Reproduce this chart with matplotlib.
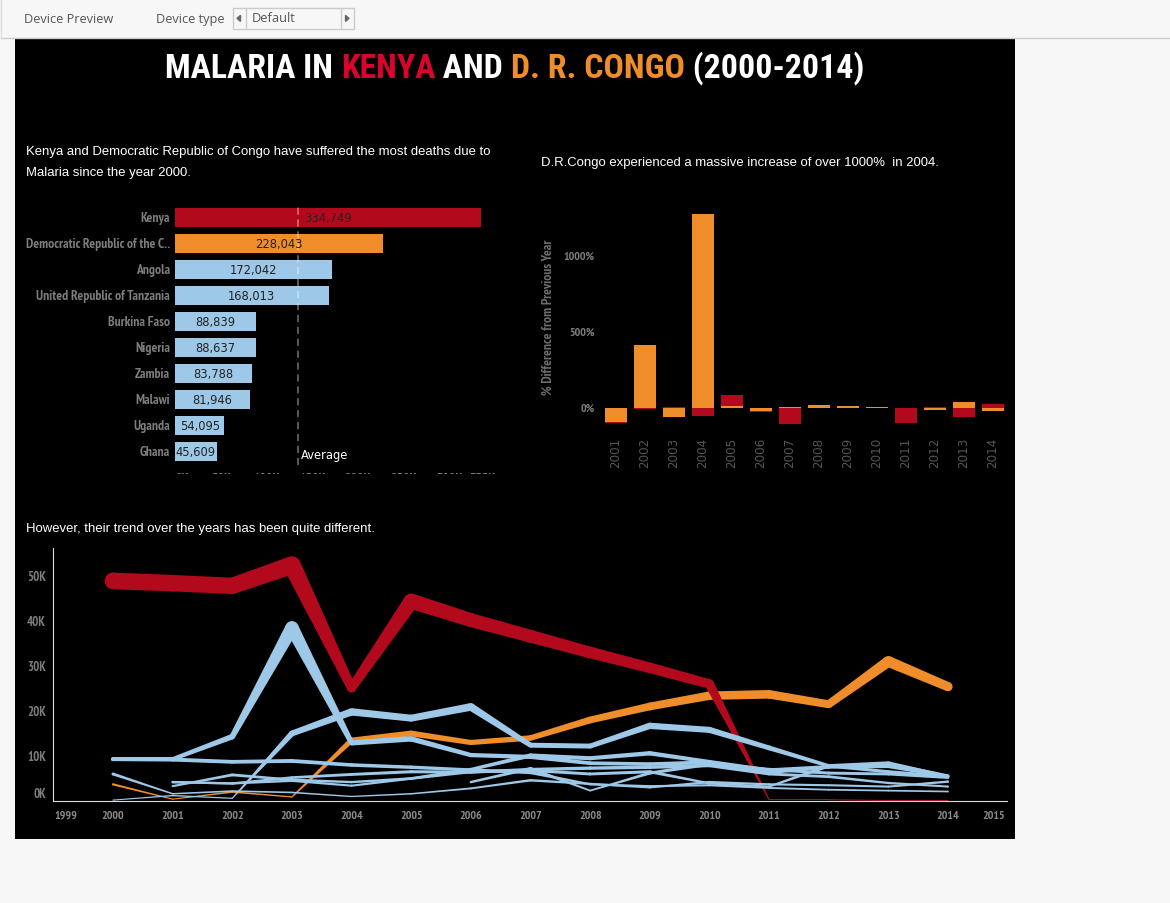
import numpy as np
import matplotlib
matplotlib.use('Agg')
import matplotlib.pyplot as plt
from matplotlib.patches import Rectangle

RED = '#b20a1c'
ORANGE = '#ef8d2a'
BLUE = '#9ec8e7'
NARROW = ['PT Sans Narrow', 'Pragati Narrow', 'Liberation Sans Narrow', 'Liberation Sans']
TITLE_FONT = ['Roboto Condensed', 'PT Sans Narrow', 'Liberation Sans']
W, H = 1170, 903

# top countries, total deaths
countries = ['Kenya', 'Democratic Republic of the C..', 'Angola', 'United Republic of Tanzania',
             'Burkina Faso', 'Nigeria', 'Zambia', 'Malawi', 'Uganda', 'Ghana']
totals = [334749, 228043, 172042, 168013, 88839, 88637, 83788, 81946, 54095, 45609]
bar_colors = [RED, ORANGE] + [BLUE] * 8
total_tick_vals = [8000, 51000, 100000, 150000, 200000, 250000, 300000, 336000]
total_tick_labels = ['0K', '50K', '100K', '150K', '200K', '250K', '300K', '335K']

# % difference from previous year
diff_years = list(range(2001, 2015))
diff_drc = [-92, 413, -59, 1271, 13, -17, 6, 20, 13, 6, 1, -12, 39, -19]
diff_kenya = [-6, -7, 6, -52, 72, -7, -105, 1, 0, 0, -99, 7, -59, 26]

# deaths per year, thousands
years = list(range(2000, 2015))
nan = float('nan')
kenya = [48.9, 48.4, 47.8, 52.4, 25.1, 44.4, 40.2, 36.6, 33.0, 29.6, 26.0, 0.3, 0.3, 0.1, 0.1]
drc = [3.7, 0.4, 2.0, 0.9, 13.5, 15.0, 13.0, 14.0, 18.0, 21.0, 23.4, 23.7, 21.5, 31.0, 25.4]
others = [
    [9.3, 9.3, 14.3, 38.5, 12.9, 13.8, 10.2, 9.8, 8.4, 8.2, 8.6, 6.3, 7.6, 7.7, 5.4],
    [0.2, 1.2, 0.6, 15.0, 19.8, 18.4, 20.9, 12.4, 12.2, 16.7, 15.8, 11.8, 7.8, 6.5, 5.5],
    [9.3, 9.2, 8.7, 8.9, 8.0, 7.5, 6.9, 6.3, 3.7, 3.3, 3.5, 2.9, 2.5, 2.3, 2.1],
    [6.0, 1.6, 2.2, 1.9, 1.0, 1.6, 2.8, 4.6, 3.8, 3.0, 4.2, 3.7, 3.5, 3.2, 4.3],
    [nan, 4.2, 3.9, 4.5, 3.4, 5.0, 7.0, 10.1, 9.5, 10.6, 8.7, 6.9, 7.6, 8.2, 5.6],
    [nan, 3.3, 5.8, 4.7, 4.2, 5.0, 6.5, 6.8, 6.0, 6.5, 3.9, 3.2, 7.8, 8.4, 5.5],
    [nan, 4.2, 3.9, 5.2, 5.9, 6.5, 6.4, 7.0, 7.3, 7.5, 7.9, 6.0, 5.4, 4.0, 3.2],
    [nan, nan, nan, nan, nan, nan, 4.2, 7.2, 2.3, 6.2, 8.2, 7.0, 6.2, 6.0, 5.2],
]
line_tick_pos = [1999.21, 2000, 2001, 2002, 2003, 2004, 2005, 2006, 2007, 2008, 2009, 2010,
                 2011, 2012, 2013, 2014, 2014.77]
line_tick_labels = [str(y) for y in range(1999, 2016)]
k_tick_pos = [1.8, 10, 20, 30, 40, 50]
k_tick_labels = ['0K', '10K', '20K', '30K', '40K', '50K']

fig = plt.figure(figsize=(11.7, 9.031), dpi=100, facecolor='#f7f7f7')

# page background and toolbar, in pixels
bg = fig.add_axes([0, 0, 1, 1])
bg.set_xlim(0, W)
bg.set_ylim(H, 0)
bg.axis('off')
bg.add_patch(Rectangle((15, 39), 1000, 800, fc='black', ec='none'))
bg.plot([1, 1170], [38.5, 38.5], color='#cccccc', lw=1)
bg.plot([1, 1], [0, 38], color='#dddddd', lw=1)
bg.text(24, 19.5, 'Device Preview', family='Open Sans', fontsize=9.2, color='#555555', va='center')
bg.text(156, 19.5, 'Device type', family='Open Sans', fontsize=9.2, color='#555555', va='center')
bg.add_patch(Rectangle((232.5, 8), 121, 21, fc='#f7f7f7', ec='#cccccc', lw=1))
bg.plot([245.5, 245.5], [8, 29], color='#cccccc', lw=1)
bg.plot([340.5, 340.5], [8, 29], color='#cccccc', lw=1)
bg.fill([240.5, 240.5, 237], [15.5, 21.5, 18.5], color='#666666')
bg.fill([345.5, 345.5, 349], [15.5, 21.5, 18.5], color='#666666')
bg.text(252, 18.5, 'Default', family='Open Sans', fontsize=9.3, color='#555555', va='center')

# title, one colour per piece
renderer = fig.canvas.get_renderer()
x = 165
for piece, col in [('MALARIA IN ', 'white'), ('KENYA', '#d9042b'), (' AND ', 'white'),
                   ('D. R. CONGO', ORANGE), (' (2000-2014)', 'white')]:
    t = bg.text(x, 68.5, piece, family=TITLE_FONT, weight='bold', fontsize=24.4, color=col, va='center')
    x = x + t.get_window_extent(renderer).width

body = dict(family='Liberation Sans', fontsize=9.45, color='white', va='center')
bg.text(26, 152, 'Kenya and Democratic Republic of Congo have suffered the most deaths due to', **body)
bg.text(26, 173, 'Malaria since the year 2000.', **body)
bg.text(541, 163, 'D.R.Congo experienced a massive increase of over 1000%  in 2004.', **body)
bg.text(26, 529, 'However, their trend over the years has been quite different.', **body)


def px_axes(left, top, right, bottom):
    a = fig.add_axes([left / W, 1 - bottom / H, (right - left) / W, (bottom - top) / H])
    a.patch.set_alpha(0)
    for s in a.spines.values():
        s.set_visible(False)
    return a


# total deaths bars
ax1 = px_axes(175, 204, 495, 474.5)
rows = np.arange(len(countries))
ax1.barh(rows, totals, height=19 / 26, color=bar_colors)
ax1.set_xlim(0, 320 / 306 * totals[0])
ax1.set_ylim((474.5 - 217.3) / 26, (204 - 217.3) / 26)
ax1.set_yticks(rows, countries, family=NARROW, weight='bold', fontsize=9.7, color='#7d7d7d')
ax1.set_xticks([])
ax1.tick_params(axis='y', length=0, pad=3.6)
for r, v in zip(rows, totals):
    ax1.text(v / 2, r + 0.03, f'{v:,}', ha='center', va='center', fontsize=8.3, color='#222222')
avg = np.mean(totals)
ax1.axvline(avg, ymin=0.035, color='white', alpha=0.38, lw=1.3, dashes=(4, 2.6))
ax1.text(avg + 3500, 9.15, 'Average', fontsize=8.3, color='white', va='center')
for v, lab in zip(total_tick_vals, total_tick_labels):
    # the axis labels are cut off by the edge of the sheet
    ax1.text(v, (473 - 217.3) / 26, lab, ha='center', va='top', family=NARROW, weight='bold',
             fontsize=9.7, color='#7d7d7d', clip_on=True)

# % difference stacked bars
ax2 = px_axes(601, 204, 1008, 430)
drc_arr = np.array(diff_drc)
ken_arr = np.array(diff_kenya)
same_sign = np.sign(drc_arr) == np.sign(ken_arr)
ax2.bar(diff_years, diff_drc, width=22 / 29, color=ORANGE)
ax2.bar(diff_years, diff_kenya, width=22 / 29, bottom=np.where(same_sign, drc_arr, 0), color=RED)
yscale = 0.1527
ax2.set_ylim((408 - 430) / yscale, (408 - 204) / yscale)
ax2.set_xlim(2001 - (616 - 601) / 29, 2001 + (1008 - 616) / 29)
ax2.set_yticks([0, 500, 1000], ['0%', '500%', '1000%'], family=NARROW, weight='bold', fontsize=8.6,
               color='#7d7d7d')
ax2.set_xticks(diff_years, diff_years, rotation=90, fontsize=8.6, color='#555555')
ax2.tick_params(length=0)
ax2.tick_params(axis='y', pad=4.3)
ax2.tick_params(axis='x', pad=5.5)
ax2.set_ylabel('% Difference from Previous Year', family=NARROW, weight='bold', fontsize=9.7,
               color='#6e6e6e')
ax2.yaxis.set_label_coords((555 - 601) / (1008 - 601), (430 - 317) / 226)

# yearly lines, width follows the value
ax3 = px_axes(53, 548, 1007, 801)
sx = (948 - 113) / 14
sy = 4.5
ax3.set_xlim(2000 - (113 - 53) / sx, 2000 + (1007 - 113) / sx)
ax3.set_ylim(0, (801 - 548) / sy)


def width_px(v):
    return 1.0 + 0.32 * v


def draw_line(values, color):
    xs = np.array(years, dtype=float)
    ys = np.array(values, dtype=float)
    ok = ~np.isnan(ys)
    for i in range(len(xs) - 1):
        if not (ok[i] and ok[i + 1]):
            continue
        dx = (xs[i + 1] - xs[i]) * sx
        dy = (ys[i + 1] - ys[i]) * sy
        n = np.hypot(dx, dy)
        nx, ny = -dy / n, dx / n
        w0, w1 = width_px(ys[i]) / 2, width_px(ys[i + 1]) / 2
        ax3.fill([xs[i] + nx * w0 / sx, xs[i + 1] + nx * w1 / sx, xs[i + 1] - nx * w1 / sx, xs[i] - nx * w0 / sx],
                 [ys[i] + ny * w0 / sy, ys[i + 1] + ny * w1 / sy, ys[i + 1] - ny * w1 / sy, ys[i] - ny * w0 / sy],
                 color=color, lw=0, clip_on=False)
    ax3.scatter(xs[ok], ys[ok], s=(width_px(ys[ok]) * 0.72) ** 2, color=color, linewidths=0, clip_on=False)


draw_line(drc, ORANGE)
draw_line(kenya, RED)
for series in others:
    draw_line(series, BLUE)

ax3.spines['left'].set_visible(True)
ax3.spines['bottom'].set_visible(True)
ax3.spines['left'].set_color('#dddddd')
ax3.spines['bottom'].set_color('#dddddd')
ax3.set_xticks(line_tick_pos, line_tick_labels, family=NARROW, weight='bold', fontsize=8.6, color='#8a8a8a')
ax3.set_yticks(k_tick_pos, k_tick_labels, family=NARROW, weight='bold', fontsize=9.2, color='#7d7d7d')
ax3.tick_params(length=0)
ax3.tick_params(axis='x', pad=7)
ax3.tick_params(axis='y', pad=5)

fig.savefig('out.png', dpi=100, facecolor=fig.get_facecolor())
